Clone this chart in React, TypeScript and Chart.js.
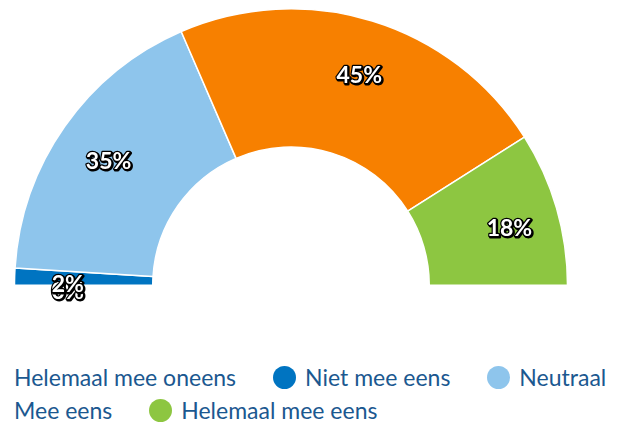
import React, { useEffect, useRef } from "react";
import { Chart, registerables } from "chart.js";

Chart.register(...registerables);

const categories = [
  "Helemaal mee oneens",
  "Niet mee eens",
  "Neutraal",
  "Mee eens",
  "Helemaal mee eens",
];
const percentages = [0, 2, 35, 45, 18];
const sliceColors = ["#0d4f80", "#0074c1", "#8ec5ec", "#f78000", "#8dc641"];

const LEGEND_ID = "html-legend-container";

const sliceLabelPlugin = {
  id: "sliceLabels",
  afterDatasetsDraw(chart: any) {
    const ctx = chart.ctx as CanvasRenderingContext2D;
    const meta = chart.getDatasetMeta(0);
    const data = chart.data.datasets[0].data as number[];
    ctx.save();
    ctx.font = "bold 23px Lato";
    ctx.textAlign = "center";
    ctx.textBaseline = "middle";
    ctx.lineJoin = "round";
    meta.data.forEach((arc: any, i: number) => {
      const p = arc.getProps(
        ["x", "y", "startAngle", "endAngle", "innerRadius", "outerRadius"],
        true
      );
      const mid = (p.startAngle + p.endAngle) / 2;
      const r = p.innerRadius + (p.outerRadius - p.innerRadius) * 0.63;
      const tx = p.x + Math.cos(mid) * r + 2;
      const ty = p.y + Math.sin(mid) * r + 6;
      const text = data[i] + "%";
      ctx.strokeStyle = "#000";
      ctx.lineWidth = 3;
      ctx.strokeText(text, tx + 1, ty + 1);
      ctx.lineWidth = 2.5;
      ctx.strokeText(text, tx, ty);
      ctx.fillStyle = "#fff";
      ctx.fillText(text, tx, ty);
    });
    ctx.restore();
  },
};

const htmlLegendPlugin = {
  id: "htmlLegend",
  afterUpdate(chart: any) {
    const container = document.getElementById(LEGEND_ID);
    if (!container) return;
    while (container.firstChild) container.firstChild.remove();
    const items = chart.options.plugins.legend.labels.generateLabels(chart);
    items.forEach((item: any) => {
      const entry = document.createElement("div");
      entry.style.display = "flex";
      entry.style.alignItems = "center";
      entry.style.whiteSpace = "nowrap";
      const dot = document.createElement("span");
      dot.style.display = "inline-block";
      dot.style.width = "23px";
      dot.style.height = "23px";
      dot.style.minWidth = "23px";
      dot.style.borderRadius = "50%";
      dot.style.backgroundColor = item.fillStyle;
      dot.style.marginRight = "9px";
      dot.style.flexShrink = "0";
      const txt = document.createElement("span");
      txt.textContent = item.text;
      entry.appendChild(dot);
      entry.appendChild(txt);
      container.appendChild(entry);
    });
  },
};

export default function App() {
  const canvasRef = useRef<HTMLCanvasElement | null>(null);

  useEffect(() => {
    if (!canvasRef.current) return;
    const chart = new Chart(canvasRef.current, {
      type: "doughnut",
      data: {
        labels: categories,
        datasets: [
          {
            data: percentages,
            backgroundColor: sliceColors,
            borderColor: "#ffffff",
            borderWidth: 1.5,
          },
        ],
      },
      options: {
        animation: false,
        responsive: true,
        maintainAspectRatio: false,
        rotation: -90,
        circumference: 180,
        cutout: "50%",
        layout: { padding: { top: 0, left: 0, right: 0, bottom: 24 } },
        plugins: {
          legend: { display: false },
          tooltip: { enabled: false },
        },
      },
      plugins: [sliceLabelPlugin, htmlLegendPlugin],
    } as any);
    return () => chart.destroy();
  }, []);

  return (
    <div>
      <div style={{ position: "relative", width: 566, height: 302 }}>
        <canvas ref={canvasRef} style={{ display: "block" }} />
      </div>
      <div style={{ marginLeft: -8, width: 618, overflow: "hidden", marginTop: 54 }}>
        <div
          id={LEGEND_ID}
          style={{
            marginLeft: -18,
            width: 660,
            display: "flex",
            flexWrap: "wrap",
            columnGap: 37,
            rowGap: 7,
            fontFamily: "Lato",
            fontSize: 23,
            lineHeight: "26px",
            color: "#1b5890",
          }}
        />
      </div>
    </div>
  );
}
